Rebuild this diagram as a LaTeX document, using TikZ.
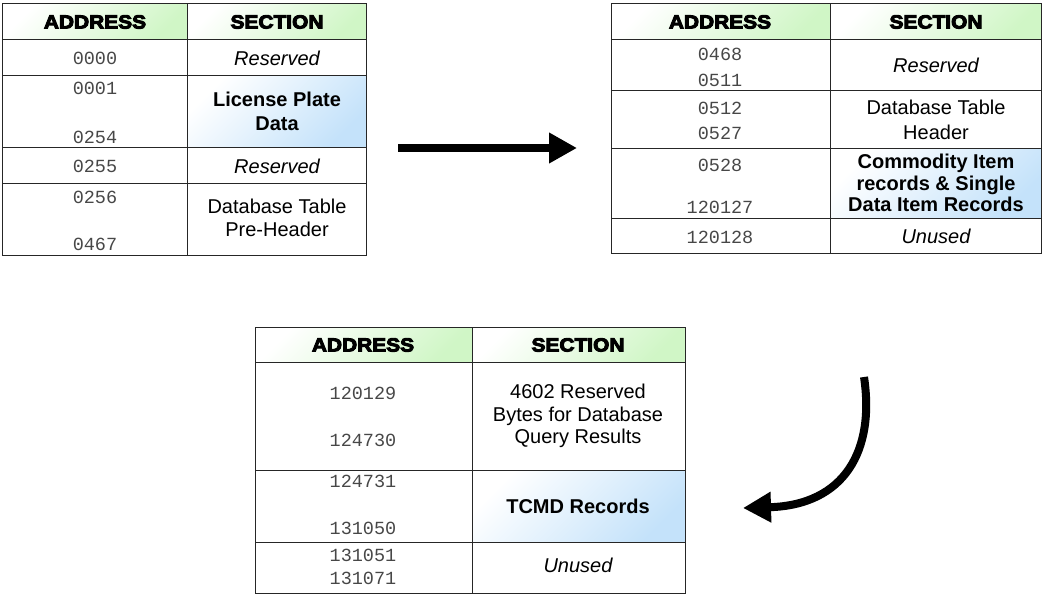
\documentclass[tikz,border=0pt]{standalone}
\usepackage{fontspec}
\setmainfont{Liberation Sans}
\setmonofont{Liberation Mono}
\newfontfamily\hdfont[BoldFeatures={FakeBold=5,FakeStretch=1.1}]{Liberation Sans}
\usetikzlibrary{arrows.meta}
\definecolor{hdgreen}{RGB}{208,246,198}
\definecolor{cellblue}{RGB}{196,226,250}

\begin{document}
\begin{tikzpicture}[x = 1pt, y = -1pt]
\tikzstyle{grid}=[draw = black!85, line width = 1pt]
\tikzstyle{hdshade}=[left color = white, right color = hdgreen, shading angle = 45]
\tikzstyle{blueshade}=[left color = white, right color = cellblue, shading angle = 45]
\tikzstyle{hd}=[font = \hdfont\bfseries\fontsize{19}{22}\selectfont, inner sep = 0pt, anchor = base]
\tikzstyle{addr}=[font = \ttfamily\fontsize{18.5}{22}\selectfont, text = black!72, inner sep = 0pt, anchor = base]
\tikzstyle{sect}=[font = \fontsize{20}{23}\selectfont, align = center, inner sep = 0pt]
\tikzstyle{bigarrow}=[line width = 8pt, -{Triangle[length = 28pt, width = 29pt]}]
\useasboundingbox (0,0) rectangle (1044,594);
\shade[hdshade] (2,4) rectangle (187,40);
\shade[hdshade] (187,4) rectangle (366,40);
\shade[blueshade] (187,76) rectangle (366,147);
\shade[hdshade] (611,4) rectangle (830,40);
\shade[hdshade] (830,4) rectangle (1041,40);
\shade[blueshade] (830,148) rectangle (1041,218);
\shade[hdshade] (255,327) rectangle (472,362);
\shade[hdshade] (472,327) rectangle (685,362);
\shade[blueshade] (472,470) rectangle (685,542);
\draw[grid] (2,4) rectangle (366,255);
\draw[grid] (187,4) -- (187,255);
\draw[grid] (2,40) -- (366,40);
\draw[grid] (2,76) -- (366,76);
\draw[grid] (2,147) -- (366,147);
\draw[grid] (2,183) -- (366,183);
\draw[grid] (611,4) rectangle (1041,253);
\draw[grid] (830,4) -- (830,253);
\draw[grid] (611,40) -- (1041,40);
\draw[grid] (611,90) -- (1041,90);
\draw[grid] (611,148) -- (1041,148);
\draw[grid] (611,218) -- (1041,218);
\draw[grid] (255,327) rectangle (685,593);
\draw[grid] (472,327) -- (472,593);
\draw[grid] (255,362) -- (685,362);
\draw[grid] (255,470) -- (685,470);
\draw[grid] (255,542) -- (685,542);
\node[hd] (a-addr) at (95,28.5) {ADDRESS};
\node[hd] (a-sect) at (277,28.5) {SECTION};
\node[addr] (a0000) at (95,65) {0000};
\node[addr] (a0001) at (95,94) {0001};
\node[addr] (a0254) at (95,143) {0254};
\node[addr] (a0255) at (95,172) {0255};
\node[addr] (a0256) at (95,203) {0256};
\node[addr] (a0467) at (95,250) {0467};
\node[sect, anchor = base] (a-res1) at (277,66) {\itshape Reserved};
\node[sect, font = \bfseries\fontsize{20}{24}\selectfont] (a-plate) at (277,111) {License Plate\\Data};
\node[sect, anchor = base] (a-res2) at (277,173) {\itshape Reserved};
\node[sect] (a-prehdr) at (277,218) {Database Table\\Pre-Header};
\node[hd] (b-addr) at (720,28.5) {ADDRESS};
\node[hd] (b-sect) at (936,28.5) {SECTION};
\node[addr] (b0468) at (720,61) {0468};
\node[addr] (b0511) at (720,86) {0511};
\node[addr] (b0512) at (720,114) {0512};
\node[addr] (b0527) at (720,139) {0527};
\node[addr] (b0528) at (720,171) {0528};
\node[addr] (b120127) at (720,213) {120127};
\node[addr] (b120128) at (720,243) {120128};
\node[sect] (b-res) at (936,65) {\itshape Reserved};
\node[sect, font = \fontsize{20}{25}\selectfont] (b-hdr) at (936,120) {Database Table\\Header};
\node[sect, font = \bfseries\fontsize{20}{21.5}\selectfont] (b-items) at (936,183) {Commodity Item\\records \& Single\\Data Item Records};
\node[sect, anchor = base] (b-unused) at (936,243) {\itshape Unused};
\node[hd] (c-addr) at (363,351.5) {ADDRESS};
\node[hd] (c-sect) at (578,351.5) {SECTION};
\node[addr] (c120129) at (363,399) {120129};
\node[addr] (c124730) at (363,446) {124730};
\node[addr] (c124731) at (363,487) {124731};
\node[addr] (c131050) at (363,534) {131050};
\node[addr] (c131051) at (363,561) {131051};
\node[addr] (c131071) at (363,584) {131071};
\node[sect, font = \fontsize{20}{22.5}\selectfont] (c-query) at (578,416) {4602 Reserved\\Bytes for Database\\Query Results};
\node[sect, anchor = base, font = \bfseries\fontsize{20}{23}\selectfont] (c-tcmd) at (578,513) {TCMD Records};
\node[sect, anchor = base] (c-unused) at (578,572) {\itshape Unused};
\coordinate (arrowAstart) at (398,148);
\coordinate (arrowAend) at (577,148);
\coordinate (arrowBstart) at (864,377);
\coordinate (arrowBend) at (743,508);
\draw[bigarrow] (arrowAstart) -- (arrowAend);
\draw[bigarrow] (arrowBstart) .. controls (875,450) and (845,505) .. (arrowBend);
\end{tikzpicture}
\end{document}
